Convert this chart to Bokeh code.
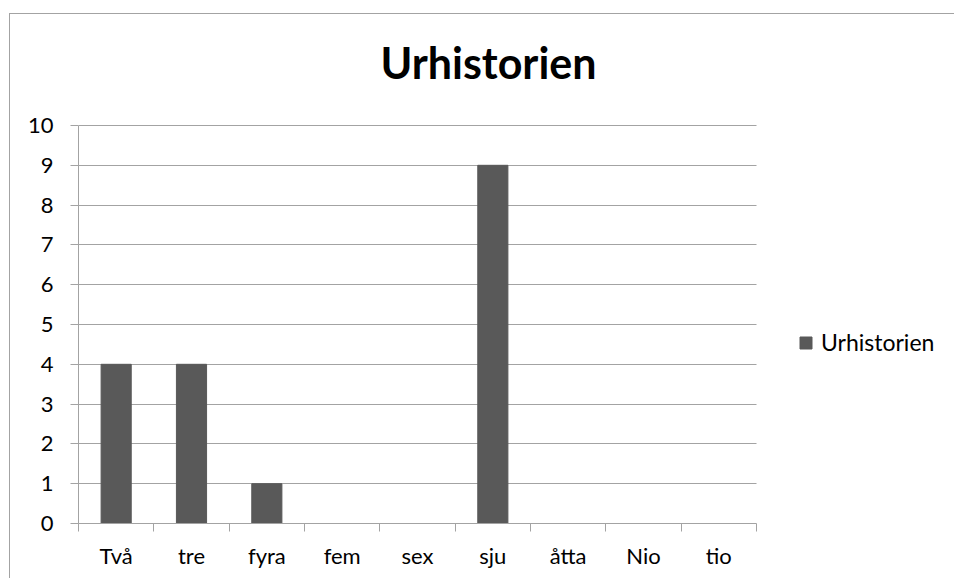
from bokeh.plotting import figure
from bokeh.models import (Range1d, LinearAxis, FixedTicker, ColumnDataSource,
                          Legend, LegendItem, Label)
from bokeh.embed import file_html
from bokeh.resources import INLINE

# ---- data ----
title_text = "Urhistorien"
series_name = "Urhistorien"
categories = ["Två", "tre", "fyra", "fem", "sex", "sju", "åtta", "Nio", "tio"]
values = [4, 4, 1, 0, 0, 9, 0, 0, 0]
y_ticks = [0, 1, 2, 3, 4, 5, 6, 7, 8, 9, 10]

FONT = "Lato"
GRID = "#a3a3a3"
BAR = "#595959"

n = len(categories)
y_max = y_ticks[-1]
centers = [i + 0.5 for i in range(n)]
src = ColumnDataSource(dict(x=centers, top=values, cat=categories))

# layout constants (pixels)
W, H = 945, 565
OX, OY = 10, 14                   # figure content origin on the page
PLOT_L, PLOT_R = 78, 756          # plot area left/right on the page
PLOT_T, PLOT_B = 125, 523         # plot area top/bottom on the page
frame_w = (OX + W) - PLOT_L       # frame runs to the right edge (legend lives there)
frame_h = PLOT_B - OY             # frame runs to the top edge (title lives there)
x_end = n * frame_w / (PLOT_R - PLOT_L)
y_end = y_max * frame_h / (PLOT_B - PLOT_T)

p = figure(width=W, height=H, output_backend="svg", toolbar_location=None,
           x_range=Range1d(0, x_end), y_range=Range1d(0, y_end),
           x_axis_location=None, y_axis_location=None,
           min_border_left=PLOT_L - OX, min_border_right=0,
           min_border_top=0, min_border_bottom=(OY + H) - PLOT_B)
p.margin = (13, 0, 0, 9)
p.styles = {"border-left": f"1px solid {GRID}", "border-top": f"1px solid {GRID}"}
p.outline_line_color = None
p.background_fill_color = "white"
p.border_fill_color = "white"

r = p.vbar(x="x", top="top", width=0.4, source=src, fill_color=BAR, line_color=BAR)

# title (inside the extended frame, screen units from frame bottom-left)
p.add_layout(Label(x=410, y=PLOT_B - 62, x_units="screen", y_units="screen",
                   text=title_text, text_align="center", text_baseline="alphabetic",
                   text_font=FONT, text_font_size="43px", text_font_style="bold",
                   text_color="black"))

# y axis
yax = LinearAxis(ticker=FixedTicker(ticks=y_ticks), bounds=(0, y_max))
yax.axis_line_color = GRID
yax.major_tick_line_color = GRID
yax.major_tick_in = 0
yax.major_tick_out = 8
yax.minor_tick_line_color = None
yax.major_label_text_font = FONT
yax.major_label_text_font_size = "22px"
yax.major_label_text_color = "black"
yax.major_label_standoff = 17
p.add_layout(yax, "left")

# horizontal grid limited to the category area
p.xgrid.grid_line_color = None
g = p.ygrid[0]
g.ticker = FixedTicker(ticks=y_ticks)
if "cross_bounds" in g.properties():
    g.grid_line_color = GRID
    g.cross_bounds = (0, n)
else:
    g.grid_line_color = None
    p.segment(x0=[0] * len(y_ticks), x1=[n] * len(y_ticks), y0=y_ticks, y1=y_ticks,
              line_color=GRID, line_width=1, level="underlay")

# x axis tick marks at category boundaries
tax = LinearAxis(ticker=FixedTicker(ticks=list(range(n + 1))), bounds=(0, n))
tax.axis_line_color = GRID
tax.major_tick_line_color = GRID
tax.major_tick_in = 0
tax.major_tick_out = 8
tax.minor_tick_line_color = None
tax.major_label_text_font_size = "0px"
tax.major_label_standoff = 0
tax.major_label_overrides = {i: "" for i in range(n + 1)}
p.add_layout(tax, "below")

# x axis category labels
cax = LinearAxis(ticker=FixedTicker(ticks=centers), bounds=(0, n))
cax.major_label_overrides = {c: lab for c, lab in zip(centers, categories)}
cax.axis_line_color = None
cax.major_tick_line_color = None
cax.major_tick_out = 0
cax.minor_tick_line_color = None
cax.major_label_text_font = FONT
cax.major_label_text_font_size = "22px"
cax.major_label_text_color = "black"
cax.major_label_standoff = 10
p.add_layout(cax, "below")

# legend inside the (extended) frame, right of the bars
legend = Legend(items=[LegendItem(label=series_name, renderers=[r])], location=(720, 167),
                glyph_width=15, glyph_height=15, label_standoff=8, padding=0, margin=0,
                border_line_color=None, background_fill_alpha=0,
                label_text_font=FONT, label_text_font_size="23px", label_text_color="black")
p.add_layout(legend, "center")

open("out.html", "w").write(file_html(p, INLINE))
